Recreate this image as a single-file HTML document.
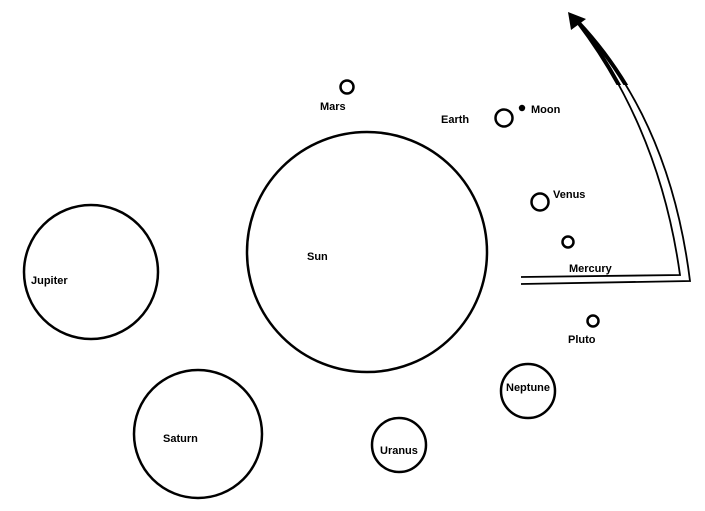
<!DOCTYPE html>
<html><head><style>
html,body{margin:0;padding:0;background:#fff;}
svg{display:block;}
text{font-family:"Liberation Sans",sans-serif;font-size:11px;font-weight:bold;fill:#000;}
</style></head><body>
<svg width="705" height="511" viewBox="0 0 705 511">
<defs><clipPath id="c"><rect x="560" y="0" width="80" height="85"/></clipPath></defs>
<g fill="none" stroke="#000" stroke-width="2.5">
<circle cx="91" cy="272" r="67"/>
<circle cx="367" cy="252" r="120"/>
<circle cx="198" cy="434" r="64"/>
<circle cx="399" cy="445" r="27"/>
<circle cx="528" cy="391" r="27"/>
<circle cx="347" cy="87" r="6.5"/>
<circle cx="504" cy="118" r="8.5"/>
<circle cx="540" cy="202" r="8.5"/>
<circle cx="568" cy="242" r="5.5"/>
<circle cx="593" cy="321" r="5.5"/>
</g>
<circle cx="522" cy="108" r="3.2" fill="#000"/>
<g fill="none" stroke="#000" stroke-width="1.8">
<path d="M521 277 L680 275 Q660 130 578 22"/>
<path d="M521 284 L690 281 Q670 120 578 22"/>
</g>
<g clip-path="url(#c)" fill="none" stroke="#000" stroke-width="4">
<path d="M680 275 Q660 130 578 22"/>
<path d="M690 281 Q670 120 578 22"/>
</g>
<path d="M568 12 L586 19 L571 30 Z" fill="#000"/>
<text x="320" y="110">Mars</text>
<text x="441" y="123">Earth</text>
<text x="531" y="113">Moon</text>
<text x="553" y="198">Venus</text>
<text x="569" y="272">Mercury</text>
<text x="568" y="343">Pluto</text>
<text x="31" y="284">Jupiter</text>
<text x="307" y="260">Sun</text>
<text x="163" y="442">Saturn</text>
<text x="380" y="454">Uranus</text>
<text x="506" y="391">Neptune</text>
</svg>
</body></html>
